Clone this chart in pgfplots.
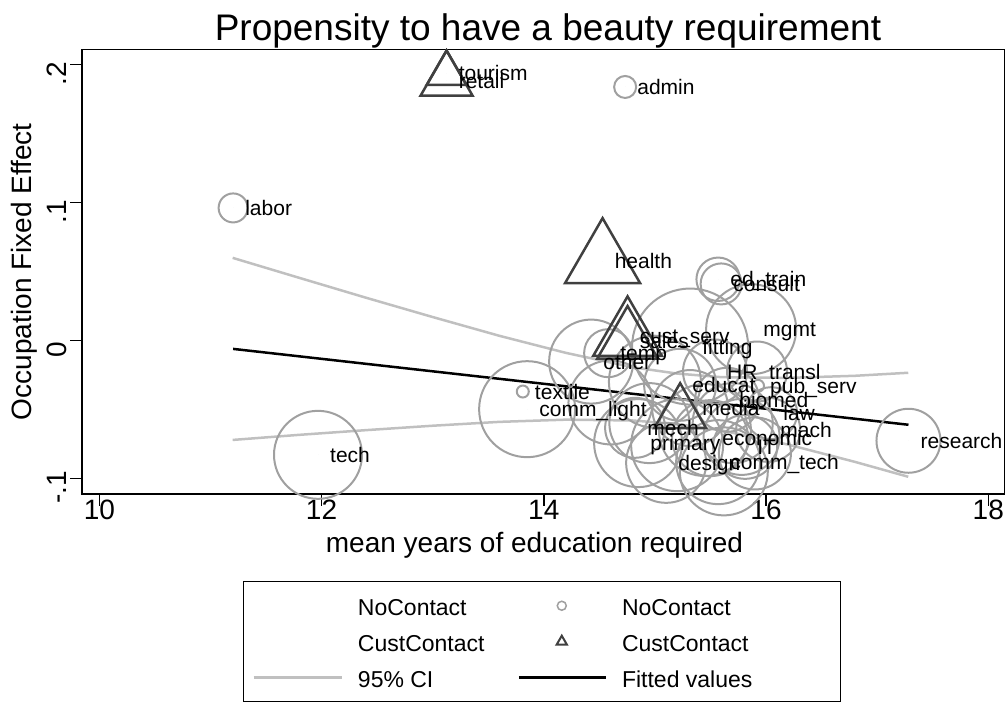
\documentclass[border=0pt]{standalone}
\usepackage{fontspec}
\setmainfont{Liberation Sans}
\usepackage{pgfplots}
\usepackage{pgfplotstable}
\pgfplotsset{compat=1.18}
\definecolor{cgray}{HTML}{A0A0A0}
\definecolor{tgray}{HTML}{404040}
\definecolor{cigray}{HTML}{C0C0C0}

\pgfdeclareplotmark{tri}{%
  \pgfpathmoveto{\pgfqpointpolar{90}{\pgfplotmarksize}}%
  \pgfpathlineto{\pgfqpointpolar{210}{\pgfplotmarksize}}%
  \pgfpathlineto{\pgfqpointpolar{330}{\pgfplotmarksize}}%
  \pgfpathclose
  \pgfusepathqstroke
}

% labels of the occupations (NoContact and CustContact)
\pgfplotstableread{
x y lbl
14.732 0.1837 admin
11.204 0.0960 labor
15.569 0.0443 ed\_train
15.596 0.0409 consult
15.866 0.0081 mgmt
15.317 -0.0045 fitting
14.426 -0.0154 other
14.579 -0.0093 temp
15.541 -0.0226 HR
15.919 -0.0226 transl
15.928 -0.0330 pub\_serv
13.811 -0.0371 textile
13.850 -0.0499 comm\_light
11.968 -0.0830 tech
17.282 -0.0728 research
15.650 -0.0431 biomed
16.046 -0.0528 law
16.019 -0.0649 mach
15.497 -0.0709 economic
15.569 -0.0883 comm\_tech
15.101 -0.0888 design
14.849 -0.0745 primary
14.822 -0.0634 mech
15.317 -0.0491 media
15.227 -0.0322 educat
15.812 -0.0772 IT
13.125 0.1935 tourism
13.125 0.1883 retail
14.529 0.0572 health
14.754 0.0031 cust\_serv
14.754 -0.0005 sales
}\labels

\pgfplotsset{
  cmark/.style={only marks, mark=o, color=cgray, mark options={line width=2pt, draw=cgray, fill=none}, forget plot},
  tmark/.style={only marks, mark=tri, color=tgray, mark options={line width=2.5pt, draw=tgray, fill=none}, forget plot},
}

\begin{document}
\begin{tikzpicture}
\useasboundingbox (0pt,0pt) rectangle (1006pt,-704pt);
\begin{axis}[
  at={(82pt,-494pt)}, anchor=south west,
  scale only axis, width=922.7pt, height=444.7pt,
  xmin=9.844, xmax=18.148, ymin=-0.1114, ymax=0.2110,
  clip=false,
  xtick={10,12,14,16,18}, ytick={-0.1,0,0.1,0.2}, yticklabels={-.1,0,.1,.2},
  tick pos=left, tick align=outside, major tick length=11.5pt,
  every tick/.style={black, line width=1.5pt},
  axis line style={line width=1.5pt, black},
  /pgf/number format/assume math mode=true,
  ticklabel style={font=\fontsize{28}{28}\selectfont},
  xticklabel style={yshift=9pt},
  yticklabel style={rotate=90, anchor=south, xshift=-9pt},
  xlabel={mean years of education required}, ylabel={Occupation Fixed Effect},
  label style={font=\fontsize{28}{28}\selectfont},
  xlabel style={at={(axis description cs:0.4904,-0.1147)}, anchor=center},
  ylabel style={at={(axis description cs:-0.0629,0.5)}, anchor=center},
  title={Propensity to have a beauty requirement},
  title style={font=\fontsize{37}{37}\selectfont, at={(axis description cs:0.505,1.0074)}, anchor=base},
  legend columns=2,
  legend cell align=left,
  legend style={at={(axis description cs:0.1742,-0.1956)}, anchor=north west,
    draw=black, line width=1.5pt, inner xsep=9pt, inner ysep=6pt,
    font=\fontsize{23}{23}\selectfont,
    nodes={inner sep=0pt, text height=28.25pt, text depth=7.75pt},
    column sep=15pt, row sep=0pt,
    /tikz/every even column/.append style={column sep=33pt}},
]
% NoContact occupations (circles, size = weight)
\addplot[cmark, mark size=11] coordinates {(14.732,0.1837)};
\addplot[cmark, mark size=14.5] coordinates {(11.204,0.0960)};
\addplot[cmark, mark size=21.7] coordinates {(15.569,0.0443)};
\addplot[cmark, mark size=20.5] coordinates {(15.596,0.0409)};
\addplot[cmark, mark size=45] coordinates {(15.866,0.0081)};
\addplot[cmark, mark size=58] coordinates {(15.317,-0.0045)};
\addplot[cmark, mark size=42] coordinates {(14.426,-0.0154)};
\addplot[cmark, mark size=24] coordinates {(14.579,-0.0093)};
\addplot[cmark, mark size=32] coordinates {(15.541,-0.0226)};
\addplot[cmark, mark size=30] coordinates {(15.919,-0.0226)};
\addplot[cmark, mark size=6] coordinates {(15.928,-0.0330)};
\addplot[cmark, mark size=6] coordinates {(13.811,-0.0371)};
\addplot[cmark, mark size=48] coordinates {(13.850,-0.0499)};
\addplot[cmark, mark size=44] coordinates {(11.968,-0.0830)};
\addplot[cmark, mark size=32] coordinates {(17.282,-0.0728)};
\addplot[cmark, mark size=32] coordinates {(15.650,-0.0431)};
\addplot[cmark, mark size=26] coordinates {(16.046,-0.0528)};
\addplot[cmark, mark size=32] coordinates {(16.019,-0.0649)};
\addplot[cmark, mark size=38] coordinates {(15.497,-0.0709)};
\addplot[cmark, mark size=42] coordinates {(15.569,-0.0883)};
\addplot[cmark, mark size=40] coordinates {(15.101,-0.0888)};
\addplot[cmark, mark size=44] coordinates {(14.849,-0.0745)};
\addplot[cmark, mark size=30] coordinates {(14.822,-0.0634)};
\addplot[cmark, mark size=38] coordinates {(15.317,-0.0491)};
\addplot[cmark, mark size=36] coordinates {(15.227,-0.0322)};
\addplot[cmark, mark size=32] coordinates {(15.812,-0.0772)};
\addplot[cmark, mark size=42] coordinates {(14.600,-0.0450)};
\addplot[cmark, mark size=46] coordinates {(15.000,-0.0300)};
\addplot[cmark, mark size=46] coordinates {(15.450,-0.0650)};
\addplot[cmark, mark size=40] coordinates {(15.700,-0.0600)};
\addplot[cmark, mark size=36] coordinates {(15.900,-0.0820)};
\addplot[cmark, mark size=46] coordinates {(15.200,-0.0760)};
\addplot[cmark, mark size=40] coordinates {(14.950,-0.0600)};
\addplot[cmark, mark size=44] coordinates {(15.620,-0.0950)};
\addplot[cmark, mark size=38] coordinates {(15.780,-0.0700)};
% CustContact occupations (triangles)
\addplot[tmark, mark size=23] coordinates {(13.125,0.1935)};
\addplot[tmark, mark size=30] coordinates {(13.125,0.1883)};
\addplot[tmark, mark size=43.3] coordinates {(14.529,0.0572)};
\addplot[tmark, mark size=39.7] coordinates {(14.754,0.0031)};
\addplot[tmark, mark size=35] coordinates {(14.754,-0.0005)};
\addplot[tmark, mark size=30] coordinates {(15.227,-0.0528)};
% labels
\addplot[only marks, mark=*, mark size=0pt, forget plot,
  point meta=explicit symbolic, nodes near coords,
  every node near coord/.append style={anchor=west, xshift=12pt, inner sep=0pt,
    text height=15pt, text depth=0pt,
    font=\fontsize{21}{21}\selectfont, text=black},
] table[x=x, y=y, meta=lbl] {\labels};
% 95% CI and fitted values
\addplot[cigray, line width=2.5pt, forget plot] coordinates {
(11.2,0.0598) (11.8,0.0453) (12.4,0.0309) (13.0,0.0169) (13.6,0.0033) (14.2,-0.0091)
(14.8,-0.0195) (15.2,-0.0241) (15.6,-0.0267) (16.2,-0.0272) (16.8,-0.0257) (17.28,-0.0235)};
\addplot[cigray, line width=2.5pt, forget plot] coordinates {
(11.2,-0.0722) (11.8,-0.0685) (12.4,-0.0651) (13.0,-0.0619) (13.6,-0.0591) (14.2,-0.0575)
(14.8,-0.0581) (15.2,-0.0607) (15.6,-0.0653) (16.2,-0.0756) (16.8,-0.0881) (17.28,-0.0989)};
\addplot[black, line width=2.5pt, forget plot] coordinates {(11.204,-0.0062) (17.282,-0.0612)};

\addlegendimage{empty legend}\addlegendentry{NoContact}
\addlegendimage{legend image code/.code={\path[draw=none] (0pt,0pt) -- (87pt,0pt); \draw[cgray,line width=1.5pt] (43pt,0pt) circle (4.5pt);}}\addlegendentry{NoContact}
\addlegendimage{empty legend}\addlegendentry{CustContact}
\addlegendimage{legend image code/.code={\path[draw=none] (0pt,0pt) -- (87pt,0pt); \draw[tgray,line width=2pt] (43pt,6pt) -- (48.2pt,-3pt) -- (37.8pt,-3pt) -- cycle;}}\addlegendentry{CustContact}
\addlegendimage{legend image code/.code={\draw[cigray,line width=2.5pt] (0pt,0pt) -- (88pt,0pt);}}\addlegendentry{95\% CI}
\addlegendimage{legend image code/.code={\draw[black,line width=2.5pt] (0pt,0pt) -- (87pt,0pt);}}\addlegendentry{Fitted values\hspace*{79pt}}
\end{axis}
\end{tikzpicture}
\end{document}
